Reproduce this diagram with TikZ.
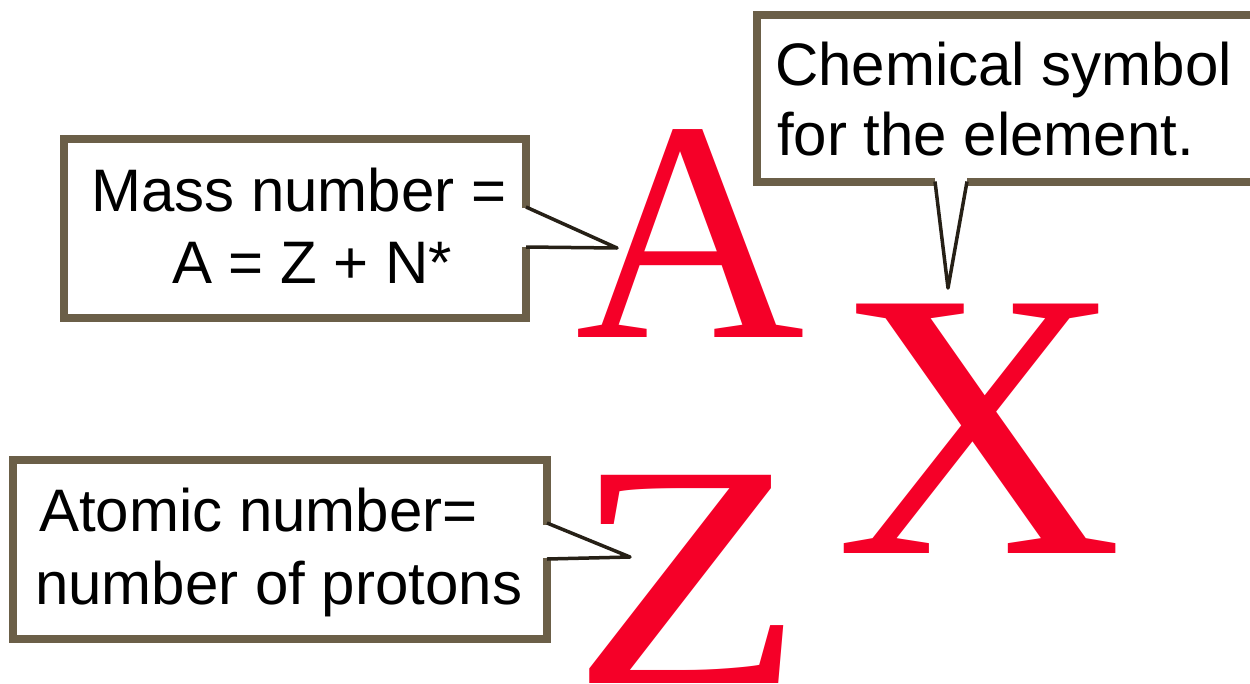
\documentclass[tikz,border=0pt]{standalone}
\usepackage{fontspec}
\setmainfont{Liberation Sans}
\newfontfamily\bigserif{Liberation Serif}
\definecolor{boxbrown}{RGB}{107,95,72}
\definecolor{symred}{RGB}{245,0,40}
\definecolor{ptrdark}{RGB}{38,32,22}
\begin{document}
\begin{tikzpicture}[x=1pt,y=-1pt,
  frame/.style={draw=boxbrown,line width=8pt,line join=miter},
  pointer/.style={draw=ptrdark,line width=3.5pt,line join=round},
  lbl/.style={font=\fontsize{60}{72}\selectfont,anchor=base west,inner sep=0pt,text=black},
  bigletter/.style={text=symred,inner sep=0pt,anchor=base}]
\useasboundingbox (0,0) rectangle (1250,683);

% big symbols
\node[bigletter,font=\bigserif\fontsize{315}{315}\selectfont] (A) at (690,337) {\scalebox{1.01}[1]{A}};
\node[bigletter,font=\bigserif\fontsize{381}{381}\selectfont] (X) at (979,553) {\scalebox{1.045}[1]{X}};
\node[bigletter,font=\bigserif\fontsize{318}{318}\selectfont] (Z) at (688,683) {\scalebox{1.2}[1]{Z}};

% callout tips
\coordinate (tipA) at (617,248);
\coordinate (tipX) at (948,288);
\coordinate (tipZ) at (630,557);

% box 1: mass number
\draw[frame] (526,208) -- (526,138.5) -- (63.5,138.5) -- (63.5,318) -- (526,318) -- (526,247);
\draw[pointer] (526,207) -- (tipA) -- (526,247);
\node[lbl] (mass1) at (91,211) {Mass number =};
\node[lbl] (mass2) at (172,283) {A = Z + N*};

% box 2: chemical symbol
\draw[frame] (1262,14.5) -- (756.5,14.5) -- (756.5,181.5) -- (935,181.5);
\draw[frame] (967,181.5) -- (1262,181.5);
\draw[pointer] (935,181.5) -- (tipX) -- (967,181.5);
\node[lbl] (chem1) at (775,85) {Chemical symbol};
\node[lbl] (chem2) at (777,155) {for the element.};

% box 3: atomic number
\draw[frame] (547,525) -- (547,459.5) -- (13,459.5) -- (13,639) -- (547,639) -- (547,558);
\draw[pointer] (547,523) -- (tipZ) -- (547,559);
\node[lbl] (atom1) at (39,531) {Atomic number=};
\node[lbl] (atom2) at (35,604) {number of protons};
\end{tikzpicture}
\end{document}
